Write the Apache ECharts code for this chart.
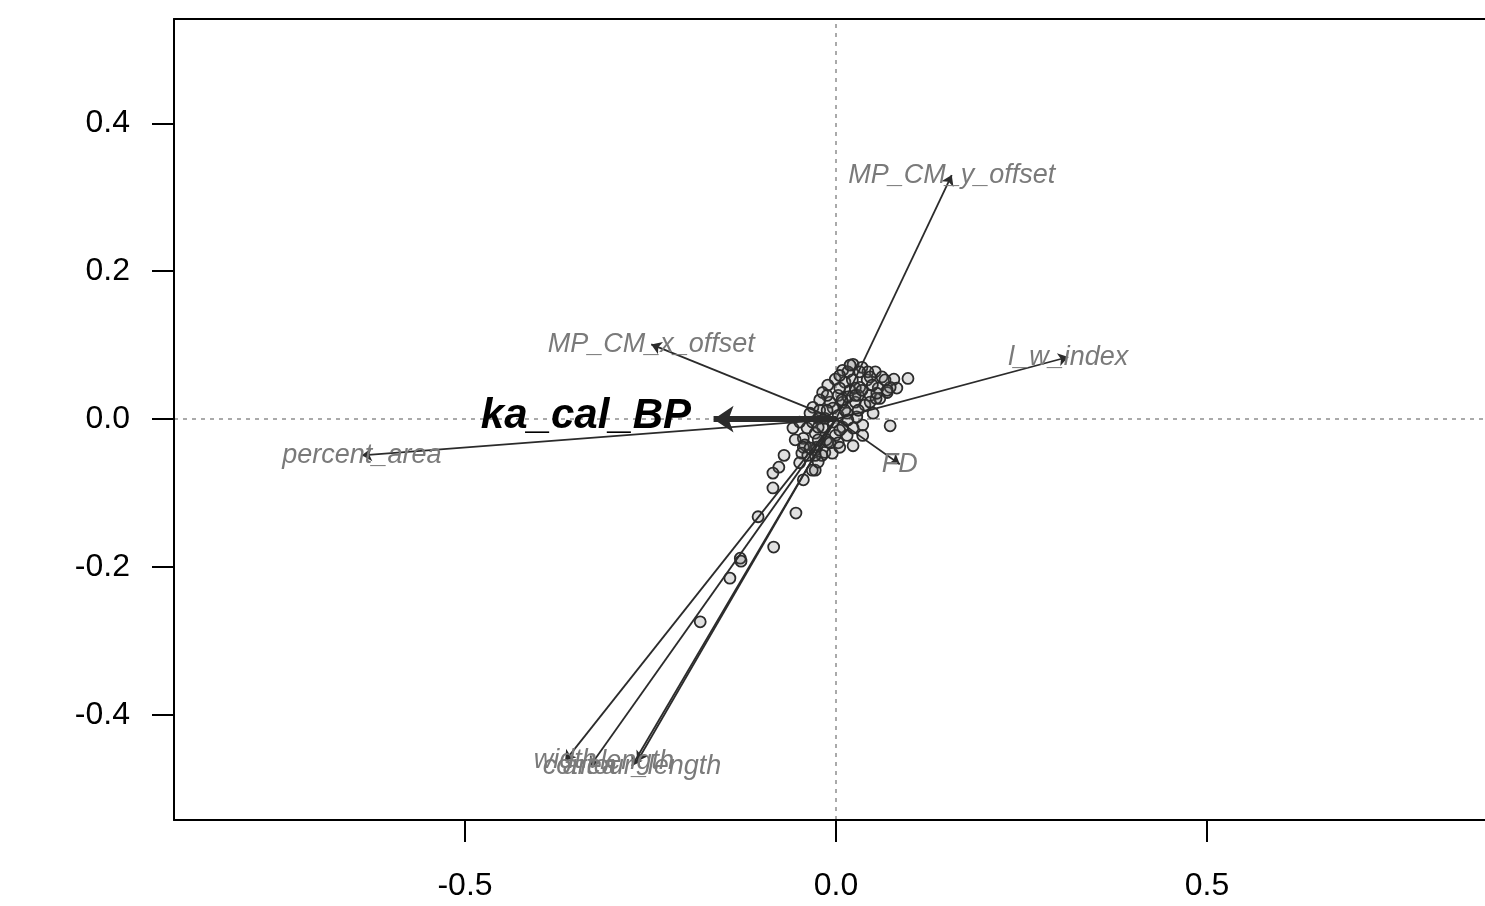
<!DOCTYPE html>
<html>
<head>
<meta charset="utf-8">
<script src="https://cdn.jsdelivr.net/npm/echarts@6/dist/echarts.min.js"></script>
<style>
  html, body { margin: 0; padding: 0; background: #fff; }
  #main { width: 1485px; height: 906px; }
</style>
</head>
<body>
<div id="main"></div>
<script>
// site scores
const siteX = [0.023, 0.009, 0.035, 0.053, 0.062, 0.078, 0.097, -0.001, -0.011, -0.018,
  0.012, 0.042, 0.057, 0.069, 0.082, 0.073, 0.046, 0.032, 0.019, 0.003,
  -0.008, 0.009, 0.026, 0.039, 0.046, 0.050, -0.031, -0.035, -0.022, -0.004,
  0.015, 0.028, 0.036, 0.073, -0.039, -0.018, -0.004, 0.009, 0.023, -0.028,
  -0.001, 0.015, -0.044, -0.011, 0.003, 0.023, -0.026, -0.015, -0.042, -0.005,
  -0.058, -0.049, -0.070, -0.077, -0.085, -0.085, -0.054, -0.105, -0.084, -0.129,
  -0.128, -0.143, -0.183, -0.028, -0.044, -0.044, -0.046, -0.019, -0.028, 0.005,
  0.036, -0.012, 0.016, 0.030, 0.022, 0.005, 0.059, 0.066, 0.043, 0.016,
  0.030, 0.003, -0.024, -0.032, 0.016, -0.038, -0.024, -0.013, 0.026, 0.054,
  0.019, 0.032, 0.046, 0.069, 0.055, 0.008, -0.012, -0.024, -0.024, -0.008,
  -0.028, -0.049, -0.032, 0.012, 0.026, 0.035, 0.005, 0.049, -0.022, -0.015,
  0.005, -0.035, -0.055];
const siteY = [0.074, 0.066, 0.070, 0.064, 0.057, 0.054, 0.055, 0.054, 0.046, 0.036,
  0.050, 0.053, 0.042, 0.036, 0.042, 0.043, 0.032, 0.043, 0.039, 0.032,
  0.023, 0.023, 0.023, 0.019, 0.023, 0.008, 0.016, 0.008, 0.012, 0.015,
  0.008, 0.003, -0.008, -0.009, -0.012, -0.011, -0.004, -0.011, -0.012, -0.019,
  -0.022, -0.022, -0.026, -0.031, -0.032, -0.036, -0.038, -0.045, -0.035, -0.046,
  -0.012, -0.004, -0.049, -0.065, -0.073, -0.093, -0.127, -0.132, -0.173, -0.188,
  -0.192, -0.215, -0.274, -0.069, -0.082, -0.038, -0.046, -0.049, -0.042, -0.038,
  -0.022, 0.032, 0.030, 0.032, 0.053, 0.042, 0.028, 0.053, 0.064, 0.064,
  0.012, 0.005, 0.001, -0.004, -0.001, -0.049, -0.058, -0.028, 0.042, 0.028,
  0.073, 0.064, 0.057, 0.039, 0.035, 0.026, 0.012, -0.011, -0.028, -0.032,
  -0.049, -0.059, -0.069, 0.012, 0.032, 0.039, 0.059, 0.046, 0.026, 0.001,
  -0.015, -0.039, -0.028];

// variable vectors
const vecNames = ['MP_CM_y_offset', 'l_w_index', 'MP_CM_x_offset', 'percent_area', 'FD',
  'width', 'area', 'length', 'contour_length'];
const vecX = [0.156, 0.313, -0.249, -0.639, 0.086, -0.365, -0.332, -0.268, -0.275];
const vecY = [0.330, 0.084, 0.101, -0.049, -0.061, -0.462, -0.470, -0.463, -0.469];

// fitted environmental vector
const envName = 'ka_cal_BP';
const envX = -0.165;
const envY = 0.0;
const envLabelX = -0.337;
const envLabelY = 0.003;

const xTicks = [-0.5, 0.0, 0.5];
const yTicks = [-0.4, -0.2, 0.0, 0.2, 0.4];

const font = "'Liberation Sans', Arial, Helvetica, sans-serif";
const frame = { show: true, onZero: false, lineStyle: { color: '#000', width: 2 } };
const chart = echarts.init(document.getElementById('main'));

chart.setOption({
  animation: false,
  backgroundColor: '#fff',
  grid: { left: 174, top: 19, right: 0, bottom: 86 },
  xAxis: [{
    type: 'value', min: -0.8922, max: 0.8747, position: 'bottom',
    axisLine: frame,
    splitLine: { show: false },
    axisTick: { show: true, length: 22, customValues: xTicks, lineStyle: { color: '#000', width: 2 } },
    axisLabel: {
      customValues: xTicks, formatter: v => v.toFixed(1),
      fontSize: 32, color: '#000', margin: 50, fontFamily: font
    }
  }, {
    type: 'value', min: -0.8922, max: 0.8747, position: 'top',
    axisLine: frame,
    splitLine: { show: false }, axisTick: { show: false }, axisLabel: { show: false }
  }],
  yAxis: {
    type: 'value', min: -0.542, max: 0.541,
    axisLine: frame,
    splitLine: { show: false },
    axisTick: { show: true, length: 22, customValues: yTicks, lineStyle: { color: '#000', width: 2 } },
    axisLabel: {
      customValues: yTicks, formatter: v => v.toFixed(1),
      fontSize: 32, color: '#000', margin: 44, fontFamily: font
    }
  },
  series: [
    {
      type: 'scatter',
      data: [],
      markLine: {
        silent: true,
        z: 0,
        symbol: ['none', 'none'],
        label: { show: false },
        lineStyle: { type: [4, 5], color: '#aaa', width: 2 },
        data: [{ xAxis: 0 }, { yAxis: 0 }]
      },
      z: 0
    },
    {
      type: 'scatter',
      data: siteX.map((x, i) => [x, siteY[i]]),
      symbol: 'circle',
      symbolSize: 11,
      itemStyle: { color: 'rgba(100,100,100,0.2)', borderColor: '#2b2b2b', borderWidth: 1.8, opacity: 1 },
      z: 2
    },
    {
      type: 'lines',
      coordinateSystem: 'cartesian2d',
      symbol: ['none', 'arrow'],
      symbolSize: 10,
      lineStyle: { color: '#2b2b2b', width: 1.8, opacity: 1 },
      data: vecNames.map((n, i) => ({ coords: [[0, 0], [vecX[i], vecY[i]]] })),
      z: 3
    },
    {
      type: 'lines',
      coordinateSystem: 'cartesian2d',
      symbol: ['none', 'arrow'],
      symbolSize: 20,
      lineStyle: { color: '#2b2b2b', width: 6, opacity: 1 },
      data: [{ coords: [[0, 0], [envX, envY]] }],
      z: 3
    },
    {
      type: 'scatter',
      symbolSize: 0,
      itemStyle: { opacity: 1 },
      data: vecNames.map((n, i) => ({ name: n, value: [vecX[i], vecY[i]] })),
      label: {
        show: true, position: 'inside', formatter: p => p.name,
        color: '#7a7a7a', fontStyle: 'italic', fontSize: 27, fontFamily: font
      },
      z: 4
    },
    {
      type: 'scatter',
      symbolSize: 0,
      itemStyle: { opacity: 1 },
      data: [{ name: envName, value: [envLabelX, envLabelY] }],
      label: {
        show: true, position: 'inside', formatter: p => p.name,
        color: '#000', fontStyle: 'italic', fontWeight: 'bold', fontSize: 42, fontFamily: font
      },
      z: 5
    }
  ]
});
</script>
</body>
</html>
